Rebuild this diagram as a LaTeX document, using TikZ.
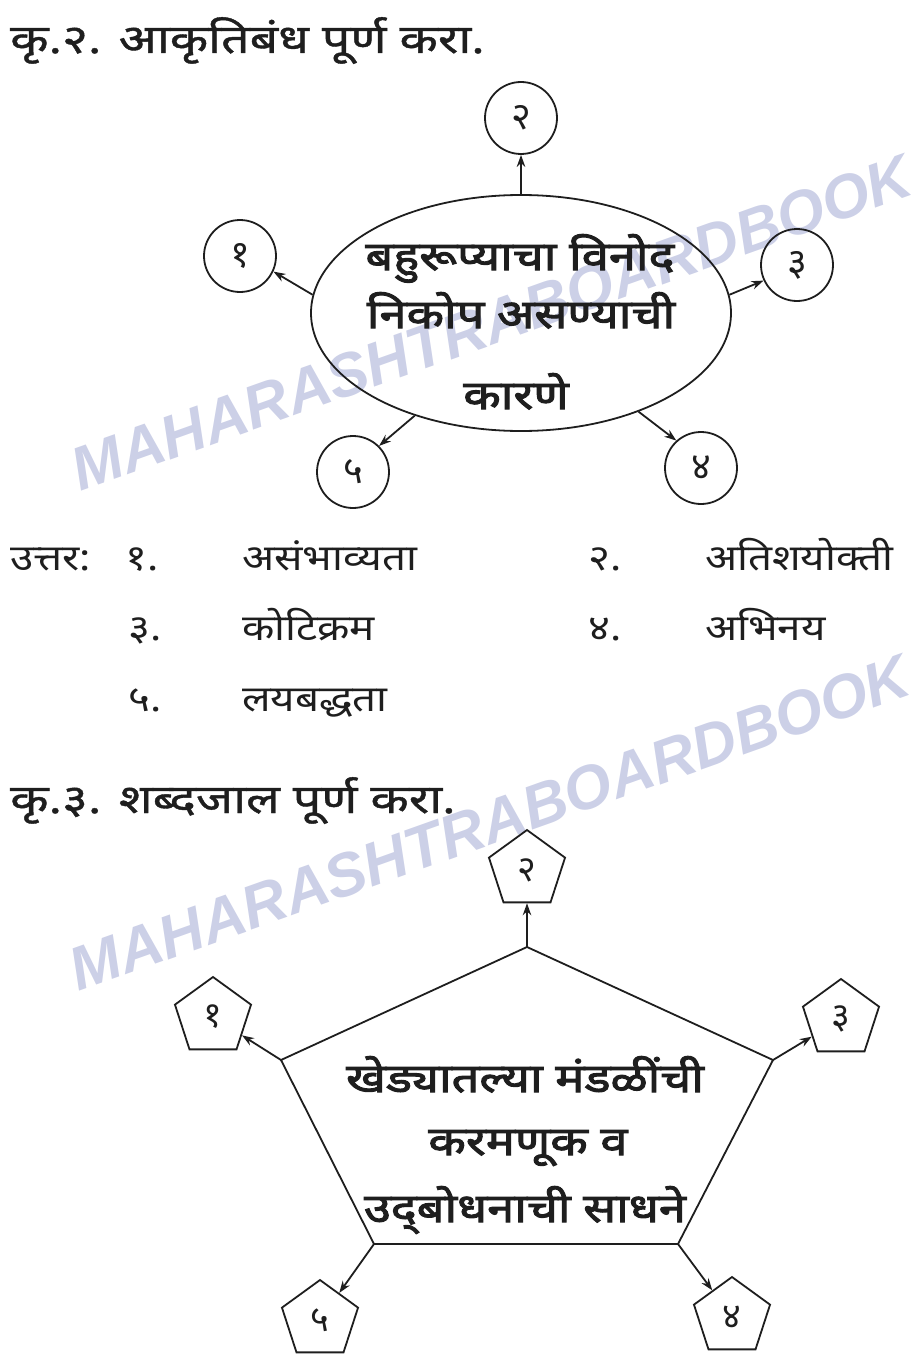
\documentclass[tikz,border=0pt]{standalone}
\usepackage{fontspec}
\setmainfont{Noto Sans}[Script=Devanagari]
\newfontfamily\ansfont{Noto Sans}[Script=Devanagari,FakeStretch=1.17]
\newfontfamily\titfont{Noto Sans}[Script=Devanagari,FakeStretch=1.25,FakeBold=1]
\newfontfamily\bigfont{Noto Sans}[Script=Devanagari,FakeStretch=1.22,FakeBold=2.5]
\newfontfamily\wmfont{Liberation Sans}
\usetikzlibrary{shapes.geometric,arrows.meta}
\definecolor{ink}{RGB}{30,30,30}
\definecolor{wm}{RGB}{204,208,231}
\begin{document}
\begin{tikzpicture}[x=1pt,y=-1pt,
  ink/.style={text=ink,draw=ink},
  title/.style={anchor=base west,inner sep=0pt,text=ink,font=\titfont\fontsize{40}{42}\selectfont},
  ans/.style={anchor=base west,inner sep=0pt,text=ink,font=\ansfont\fontsize{36}{40}\selectfont},
  big/.style={anchor=base,inner sep=0pt,text=ink,font=\bigfont\fontsize{40}{42}\selectfont},
  numc/.style={circle,draw=ink,line width=1.8pt,minimum size=72pt,inner sep=0pt,text=ink,font=\fontsize{38}{40}\selectfont},
  nump/.style={regular polygon,regular polygon sides=5,draw=ink,line width=1.8pt,minimum size=80pt,inner sep=0pt,text=ink,font=\fontsize{36}{38}\selectfont},
  arr/.style={draw=ink,line width=1.8pt,-{Stealth[length=12pt,width=8.5pt]}},
  wmark/.style={anchor=base west,inner sep=0pt,text=wm,rotate=19.6,font=\wmfont\bfseries\itshape\fontsize{61}{61}\selectfont}
]
\useasboundingbox (0,0) rectangle (913,1359);
\begin{scope}
\clip (0,0) rectangle (913,1359);
\node[wmark] (wm1) at (80,492) {MAHARASHTRABOARDBOOK};
\node[wmark] (wm2) at (78,992) {MAHARASHTRABOARDBOOK};
\end{scope}

% ---- Q2 ----
\node[title] (t1) at (10,53) {कृ.२. आकृतिबंध पूर्ण करा.};
\node[ellipse,draw=ink,line width=1.8pt,minimum width=420pt,minimum height=236pt,inner sep=0pt] (ell) at (521,313) {};
\node[big] (l1) at (520,270) {बहुरूप्याचा विनोद};
\node[big] (l2) at (521,328) {निकोप असण्याची};
\node[big] (l3) at (516,409) {कारणे};
\node[numc] (c2) at (521,118) {२};
\node[numc] (c1) at (240,256) {१};
\node[numc] (c3) at (797,265) {३};
\node[numc] (c4) at (701,468) {४};
\node[numc] (c5) at (353,472) {५};
\draw[arr] (ell.north) -- (c2.south);
\draw[arr] (ell.175) -- (c1.-25);
\draw[arr] (ell.5) -- (c3.205);
\draw[arr] (ell.-40) -- (c4.132);
\draw[arr] (ell.-136) -- (c5.45);

% ---- answers ----
\node[ans] (u0) at (10,570) {उत्तर:};
\node[ans] (a1n) at (125,570) {१.};
\node[ans] (a1) at (242,570) {असंभाव्यता};
\node[ans] (a2n) at (588,570) {२.};
\node[ans] (a2) at (705,570) {अतिशयोक्ती};
\node[ans] (a3n) at (128,640) {३.};
\node[ans] (a3) at (242,640) {कोटिक्रम};
\node[ans] (a4n) at (588,640) {४.};
\node[ans] (a4) at (705,640) {अभिनय};
\node[ans] (a5n) at (128,711) {५.};
\node[ans] (a5) at (242,711) {लयबद्धता};

% ---- Q3 ----
\node[title] (t2) at (10,813) {कृ.३. शब्दजाल पूर्ण करा.};
\coordinate (pT) at (527,947);
\coordinate (pUL) at (281,1060);
\coordinate (pUR) at (773,1060);
\coordinate (pLL) at (374,1244);
\coordinate (pLR) at (678,1244);
\draw[ink,line width=1.8pt,line join=miter] (pT) -- (pUR) -- (pLR) -- (pLL) -- (pUL) -- cycle;
\node[big] (m1) at (525,1092) {खेड्यातल्या मंडळींची};
\node[big] (m2) at (528,1155) {करमणूक व};
\node[big] (m3) at (525,1222) {उद्‌बोधनाची साधने};
\node[nump] (q2) at (527,870) {२};
\node[nump] (q1) at (213,1017) {१};
\node[nump] (q3) at (841,1019) {३};
\node[nump] (q5) at (320,1320) {५};
\node[nump] (q4) at (732,1317) {४};
\draw[arr] (pT) -- (q2);
\draw[arr] (pUL) -- (q1);
\draw[arr] (pUR) -- (q3);
\draw[arr] (pLL) -- (q5);
\draw[arr] (pLR) -- (q4);
\end{tikzpicture}
\end{document}
